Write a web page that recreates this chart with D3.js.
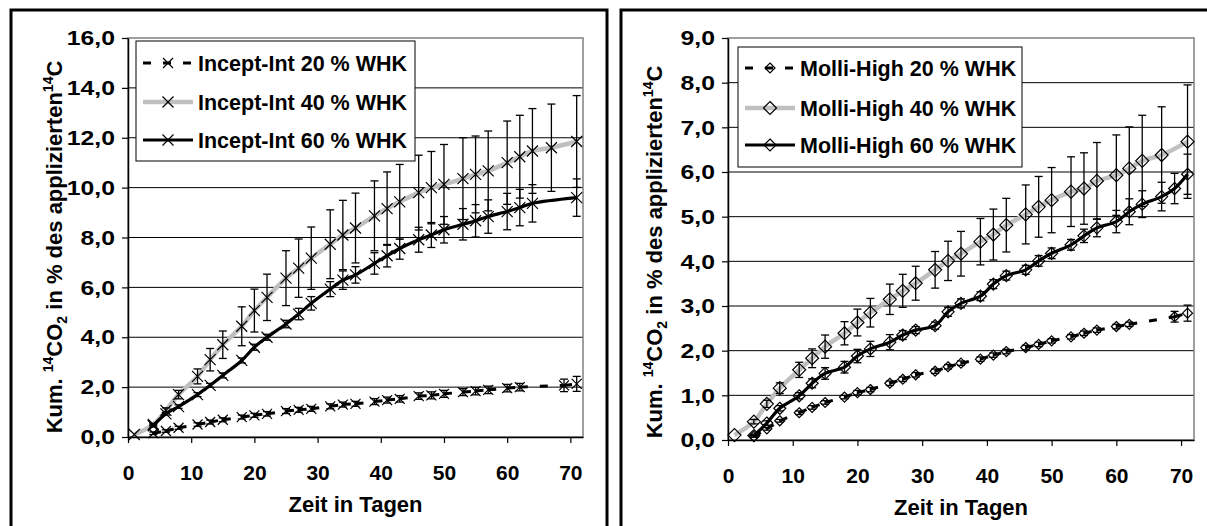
<!DOCTYPE html>
<html>
<head>
<meta charset="utf-8">
<title>Kumulierte 14CO2-Freisetzung</title>
<script src="https://cdn.jsdelivr.net/npm/d3@7"></script>
<style>
  body { margin: 0; background: #fff; }
  text { font-family: "Liberation Sans", Arial, sans-serif; font-weight: bold; }
</style>
</head>
<body>
<div id="chart"></div>
<script>
// ---- data ----
var xTicks = [0, 10, 20, 30, 40, 50, 60, 70];
var yTicksInc = [0, 2, 4, 6, 8, 10, 12, 14, 16];
var yTicksMol = [0, 1, 2, 3, 4, 5, 6, 7, 8, 9];

var namesInc = ["Incept-Int 20 % WHK", "Incept-Int 40 % WHK", "Incept-Int 60 % WHK"];
var namesMol = ["Molli-High 20 % WHK", "Molli-High 40 % WHK", "Molli-High 60 % WHK"];

// Incept-Int
var incDays20 = [4, 6, 8, 11, 13, 15, 18, 20, 22, 25, 27, 29, 32, 34, 36, 39, 41, 43, 46, 48, 50, 53, 55, 57, 60, 62, 69, 71];
var incVal20  = [0.15, 0.24, 0.37, 0.5, 0.6, 0.69, 0.8, 0.87, 0.93, 1.04, 1.09, 1.13, 1.23, 1.3, 1.33, 1.42, 1.48, 1.53, 1.64, 1.67, 1.73, 1.8, 1.84, 1.89, 1.96, 2.0, 2.07, 2.13];
var incErr20  = [0.05, 0.05, 0.06, 0.07, 0.08, 0.08, 0.08, 0.08, 0.09, 0.1, 0.1, 0.1, 0.1, 0.1, 0.1, 0.12, 0.12, 0.13, 0.13, 0.14, 0.14, 0.14, 0.15, 0.15, 0.15, 0.15, 0.25, 0.3];

var incDays40 = [1, 4, 6, 8, 11, 13, 15, 18, 20, 22, 25, 27, 29, 32, 34, 36, 39, 41, 43, 46, 48, 50, 53, 55, 57, 60, 62, 64, 67, 71];
var incVal40  = [0.1, 0.5, 1.07, 1.7, 2.43, 3.1, 3.7, 4.44, 5.07, 5.6, 6.37, 6.77, 7.17, 7.73, 8.1, 8.38, 8.87, 9.16, 9.43, 9.8, 10.0, 10.13, 10.36, 10.53, 10.67, 11.0, 11.24, 11.47, 11.6, 11.85];
var incErr40  = [0, 0.05, 0.1, 0.17, 0.3, 0.45, 0.55, 0.78, 0.86, 0.93, 1.1, 1.17, 1.25, 1.38, 1.39, 1.4, 1.4, 1.47, 1.5, 1.5, 1.45, 1.6, 1.64, 1.54, 1.6, 1.67, 1.66, 1.7, 1.75, 1.84];

var incDays60 = [4, 6, 8, 11, 13, 15, 18, 20, 22, 25, 27, 29, 32, 34, 36, 39, 41, 43, 46, 48, 50, 53, 55, 57, 60, 62, 64, 71];
var incVal60  = [0.45, 0.93, 1.22, 1.7, 2.07, 2.47, 3.07, 3.6, 4.0, 4.53, 4.93, 5.36, 5.93, 6.29, 6.5, 6.96, 7.27, 7.56, 7.91, 8.1, 8.31, 8.53, 8.67, 8.84, 9.04, 9.2, 9.37, 9.6];
var incErr60  = [0.05, 0.05, 0.07, 0.08, 0.08, 0.1, 0.1, 0.12, 0.12, 0.15, 0.23, 0.27, 0.3, 0.37, 0.33, 0.43, 0.45, 0.43, 0.5, 0.5, 0.53, 0.63, 0.65, 0.67, 0.73, 0.73, 0.75, 0.75];

// Molli-High
var molDays20 = [4, 6, 8, 11, 13, 15, 18, 20, 22, 25, 27, 29, 32, 34, 36, 39, 41, 43, 46, 48, 50, 53, 55, 57, 60, 62, 69, 71];
var molVal20  = [0.08, 0.25, 0.43, 0.61, 0.73, 0.84, 0.96, 1.06, 1.13, 1.27, 1.36, 1.46, 1.54, 1.64, 1.72, 1.81, 1.9, 1.98, 2.07, 2.14, 2.22, 2.31, 2.39, 2.46, 2.54, 2.59, 2.76, 2.84];
var molErr20  = [0.02, 0.03, 0.03, 0.04, 0.04, 0.04, 0.04, 0.05, 0.05, 0.05, 0.05, 0.05, 0.05, 0.05, 0.05, 0.05, 0.05, 0.05, 0.05, 0.05, 0.05, 0.05, 0.05, 0.05, 0.05, 0.05, 0.12, 0.18];

var molDays40 = [1, 4, 6, 8, 11, 13, 15, 18, 20, 22, 25, 27, 29, 32, 34, 36, 39, 41, 43, 46, 48, 50, 53, 55, 57, 60, 62, 64, 67, 71];
var molVal40  = [0.11, 0.41, 0.81, 1.16, 1.57, 1.83, 2.09, 2.39, 2.63, 2.85, 3.15, 3.34, 3.51, 3.81, 4.01, 4.17, 4.44, 4.6, 4.81, 5.05, 5.22, 5.37, 5.56, 5.63, 5.8, 5.93, 6.08, 6.25, 6.38, 6.68];
var molErr40  = [0, 0.05, 0.08, 0.12, 0.17, 0.21, 0.26, 0.26, 0.3, 0.32, 0.34, 0.37, 0.38, 0.41, 0.44, 0.5, 0.52, 0.57, 0.6, 0.66, 0.68, 0.73, 0.78, 0.8, 0.86, 0.9, 0.93, 1.02, 1.08, 1.27];

var molDays60 = [4, 6, 8, 11, 13, 15, 18, 20, 22, 25, 27, 29, 32, 34, 36, 39, 41, 43, 46, 48, 50, 53, 55, 57, 60, 62, 64, 67, 69, 71];
var molVal60  = [0.1, 0.38, 0.71, 0.99, 1.27, 1.49, 1.63, 1.88, 2.04, 2.19, 2.35, 2.46, 2.56, 2.87, 3.06, 3.22, 3.49, 3.68, 3.81, 4.01, 4.18, 4.37, 4.57, 4.75, 4.89, 5.11, 5.28, 5.45, 5.63, 5.95];
var molErr60  = [0.03, 0.05, 0.06, 0.07, 0.1, 0.13, 0.13, 0.15, 0.17, 0.17, 0.1, 0.08, 0.08, 0.1, 0.1, 0.1, 0.1, 0.1, 0.1, 0.12, 0.12, 0.12, 0.15, 0.2, 0.25, 0.29, 0.3, 0.32, 0.34, 0.45];

// ---- helpers ----
function series(days, vals, errs) {
  return days.map(function(d, i) { return { day: d, v: vals[i], e: errs[i] }; });
}
var fmt = function(d) { return d.toFixed(1).replace(".", ","); };

var styles = [
  { color: "#000", width: 3, dash: "8,12", smooth: false },
  { color: "#c0c0c0", width: 4.5, dash: null, smooth: true },
  { color: "#000", width: 3.2, dash: null, smooth: true }
];

var svg = d3.select("#chart").append("svg")
  .attr("width", 1207)
  .attr("height", 526);

function markerPath(type, s) {
  if (type == "x") return "M" + (-s) + "," + (-s) + "L" + s + "," + s + "M" + s + "," + (-s) + "L" + (-s) + "," + s;
  return "M0," + (-s) + "L" + s + ",0L0," + s + "L" + (-s) + ",0Z";
}

function drawPanel(p) {
  var g = svg.append("g");

  // outer frame
  g.append("rect")
    .attr("x", p.frame[0]).attr("y", p.frame[1])
    .attr("width", p.frame[2] - p.frame[0]).attr("height", p.frame[3] - p.frame[1])
    .attr("fill", "none").attr("stroke", "#000").attr("stroke-width", 3);

  var x = d3.scaleLinear().domain([0, 72]).range([p.left, p.right]);
  var y = d3.scaleLinear().domain([0, p.yMax]).range([p.bottom, p.top]);

  // gridlines
  g.selectAll(".grid")
    .data(p.yTicks.filter(function(t) { return t > 0 && t < p.yMax; }))
    .enter().append("line")
      .attr("x1", p.left).attr("x2", p.right)
      .attr("y1", function(d) { return y(d); })
      .attr("y2", function(d) { return y(d); })
      .attr("stroke", "#000").attr("stroke-width", 1);

  // plot area border
  g.append("rect")
    .attr("x", p.left).attr("y", p.top)
    .attr("width", p.right - p.left).attr("height", p.bottom - p.top)
    .attr("fill", "none").attr("stroke", "#808080").attr("stroke-width", 1.5);

  // axes
  var ya = g.append("g")
    .attr("transform", "translate(" + p.left + ",0)")
    .call(d3.axisLeft(y).tickValues(p.yTicks).tickSize(6).tickSizeOuter(0).tickPadding(7).tickFormat(fmt));
  var xa = g.append("g")
    .attr("transform", "translate(0," + p.bottom + ")")
    .call(d3.axisBottom(x).tickValues(xTicks).tickSize(6).tickSizeOuter(0).tickPadding(22));
  [ya, xa].forEach(function(a) {
    a.attr("font-family", null).attr("font-size", 21);
    a.select(".domain").attr("stroke", "#000").attr("stroke-width", 1.5);
    a.selectAll(".tick line").attr("stroke", "#000").attr("stroke-width", 1.2);
    a.selectAll(".tick text").attr("fill", "#000");
  });
  // y tick labels are drawn wider in the original
  ya.selectAll(".tick text").each(function() {
    var len = this.getComputedTextLength();
    d3.select(this).attr("textLength", len * 1.18).attr("lengthAdjust", "spacingAndGlyphs");
  });

  // axis titles
  g.append("text")
    .attr("x", (p.left + p.right) / 2).attr("y", p.bottom + 75)
    .attr("text-anchor", "middle").attr("font-size", 22)
    .text("Zeit in Tagen");

  var yt = g.append("text")
    .attr("transform", "translate(" + p.yTitleX + "," + p.yTitleY + ") rotate(-90)")
    .attr("text-anchor", "middle").attr("font-size", 22);
  yt.append("tspan").text("Kum. ");
  yt.append("tspan").attr("font-size", 14).attr("dy", -9).text("14");
  yt.append("tspan").attr("dy", 9).text("CO");
  yt.append("tspan").attr("font-size", 14).attr("dy", 5).text("2");
  yt.append("tspan").attr("dy", -5).text(" in % des applizierten");
  yt.append("tspan").attr("font-size", 14).attr("dy", -9).text("14");
  yt.append("tspan").attr("dy", 9).text("C");

  // series
  p.data.forEach(function(data, si) {
    var st = styles[si];
    var sg = g.append("g");
    if (st.smooth) {
      var line = d3.line()
        .x(function(d) { return x(d.day); })
        .y(function(d) { return y(d.v); })
        .curve(d3.curveCatmullRom.alpha(0.5));
      sg.append("path").datum(data)
        .attr("d", line)
        .attr("fill", "none").attr("stroke", st.color).attr("stroke-width", st.width);
    } else {
      // dashed line, pattern restarts at every point
      sg.selectAll(".seg").data(data.slice(1)).enter().append("line")
        .attr("x1", function(d, i) { return x(data[i].day); })
        .attr("y1", function(d, i) { return y(data[i].v); })
        .attr("x2", function(d) { return x(d.day); })
        .attr("y2", function(d) { return y(d.v); })
        .attr("stroke", st.color).attr("stroke-width", st.width)
        .attr("stroke-dasharray", st.dash);
    }
    // error bars
    var eb = sg.selectAll(".eb").data(data.filter(function(d) { return d.e > 0; })).enter().append("g")
      .attr("stroke", "#000").attr("stroke-width", 1.3);
    eb.append("line")
      .attr("x1", function(d) { return x(d.day); }).attr("x2", function(d) { return x(d.day); })
      .attr("y1", function(d) { return y(d.v - d.e); }).attr("y2", function(d) { return y(d.v + d.e); });
    eb.append("line")
      .attr("x1", function(d) { return x(d.day) - 4; }).attr("x2", function(d) { return x(d.day) + 4; })
      .attr("y1", function(d) { return y(d.v - d.e); }).attr("y2", function(d) { return y(d.v - d.e); });
    eb.append("line")
      .attr("x1", function(d) { return x(d.day) - 4; }).attr("x2", function(d) { return x(d.day) + 4; })
      .attr("y1", function(d) { return y(d.v + d.e); }).attr("y2", function(d) { return y(d.v + d.e); });
    // markers
    sg.selectAll(".mk").data(data).enter().append("path")
      .attr("transform", function(d) { return "translate(" + x(d.day) + "," + y(d.v) + ")"; })
      .attr("d", markerPath(p.marker, p.markerSize[si]))
      .attr("fill", "none").attr("stroke", "#000").attr("stroke-width", 1.2);
  });

  // legend
  var lg = g.append("g").attr("transform", "translate(" + p.legend[0] + "," + p.legend[1] + ")");
  lg.append("rect")
    .attr("width", p.legend[2]).attr("height", p.legend[3])
    .attr("fill", "#fff").attr("stroke", "#000").attr("stroke-width", 1);
  p.names.forEach(function(name, si) {
    var st = styles[si];
    var ry = p.legendRows[si];
    lg.append("line")
      .attr("x1", 7).attr("x2", 57).attr("y1", ry).attr("y2", ry)
      .attr("stroke", st.color).attr("stroke-width", st.width)
      .attr("stroke-dasharray", st.dash);
    lg.append("path")
      .attr("transform", "translate(32," + ry + ")")
      .attr("d", markerPath(p.marker, p.markerSize[si]))
      .attr("fill", "none").attr("stroke", "#000").attr("stroke-width", 1.2);
    lg.append("text")
      .attr("x", 62).attr("y", ry + 7.5)
      .attr("font-size", 21.5)
      .text(name);
  });
}

drawPanel({
  frame: [11, 10, 607, 540],
  left: 128, right: 583, top: 38, bottom: 437,
  yMax: 16, yTicks: yTicksInc,
  yTitleX: 62, yTitleY: 247,
  marker: "x", markerSize: [5, 5.5, 5.5],
  legend: [136, 41, 279, 120], legendRows: [22, 61, 99],
  names: namesInc,
  data: [series(incDays20, incVal20, incErr20), series(incDays40, incVal40, incErr40), series(incDays60, incVal60, incErr60)]
});

drawPanel({
  frame: [621, 10, 1210, 540],
  left: 728, right: 1194, top: 38, bottom: 440,
  yMax: 9, yTicks: yTicksMol,
  yTitleX: 662, yTitleY: 252,
  marker: "d", markerSize: [5, 6.5, 6],
  legend: [738, 47, 284, 120], legendRows: [21, 61, 98],
  names: namesMol,
  data: [series(molDays20, molVal20, molErr20), series(molDays40, molVal40, molErr40), series(molDays60, molVal60, molErr60)]
});
</script>
</body>
</html>
